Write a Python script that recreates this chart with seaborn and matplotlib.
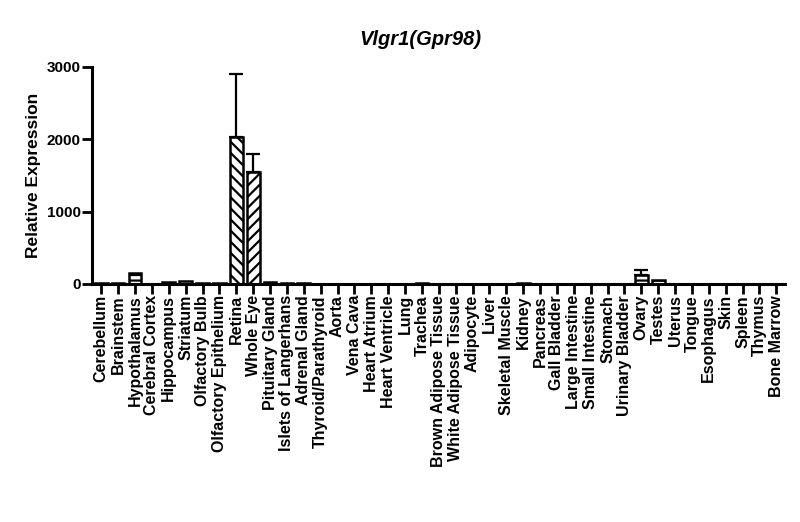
import numpy as np
import pandas as pd
import matplotlib
matplotlib.use('Agg')
import matplotlib.pyplot as plt
import seaborn as sns

tissues = ['Cerebellum', 'Brainstem', 'Hypothalamus', 'Cerebral Cortex', 'Hippocampus',
           'Striatum', 'Olfactory Bulb', 'Olfactory Epithelium', 'Retina', 'Whole Eye',
           'Pituitary Gland', 'Islets of Langerhans', 'Adrenal Gland', 'Thyroid/Parathyroid',
           'Aorta', 'Vena Cava', 'Heart Atrium', 'Heart Ventricle', 'Lung', 'Trachea',
           'Brown Adipose Tissue', 'White Adipose Tissue', 'Adipocyte', 'Liver',
           'Skeletal Muscle', 'Kidney', 'Pancreas', 'Gall Bladder', 'Large Intestine',
           'Small Intestine', 'Stomach', 'Urinary Bladder', 'Ovary', 'Testes', 'Uterus',
           'Tongue', 'Esophagus', 'Skin', 'Spleen', 'Thymus', 'Bone Marrow']
expression = [12, 10, 150, 5, 22, 40, 20, 10, 2030, 1540,
              25, 10, 12, 3, 2, 2, 2, 2, 6, 15,
              2, 2, 2, 2, 2, 10, 2, 2, 2, 2,
              2, 2, 130, 60, 2, 2, 2, 2, 2, 2, 2]
sem = [0, 0, 0, 0, 0, 0, 0, 0, 870, 260,
       0, 0, 0, 0, 0, 0, 0, 0, 0, 0,
       0, 0, 0, 0, 0, 0, 0, 0, 0, 0,
       0, 0, 60, 0, 0, 0, 0, 0, 0, 0, 0]
hatches = {'Hypothalamus': '---', 'Retina': '\\\\\\', 'Whole Eye': '///',
           'Ovary': '---', 'Testes': '---'}

df = pd.DataFrame({'tissue': tissues, 'expr': expression, 'sem': sem})

sns.set_style('ticks', {'axes.edgecolor': 'black', 'text.color': 'black',
                        'xtick.color': 'black', 'ytick.color': 'black',
                        'axes.labelcolor': 'black'})
plt.rcParams['font.family'] = ['Liberation Sans', 'DejaVu Sans']
plt.rcParams['font.weight'] = 'bold'
plt.rcParams['hatch.linewidth'] = 1.6

fig = plt.figure(figsize=(8, 5.22), dpi=100)
ax = fig.add_axes([0.115, 0.456, 0.866, 0.416])

sns.barplot(data=df, x='tissue', y='expr', color='white', edgecolor='black',
            linewidth=1.8, width=0.75, ax=ax, errorbar=None)
for patch, name in zip(ax.patches, tissues):
    if name in hatches:
        patch.set_hatch(hatches[name])

pos = np.arange(len(tissues))
mask = df['sem'] > 0
ax.errorbar(pos[mask], df['expr'][mask], yerr=[np.zeros(mask.sum()), df['sem'][mask]],
            fmt='none', ecolor='black', elinewidth=1.6, capsize=5, capthick=1.6)

ax.set_ylim(0, 3000)
ax.set_xlim(-0.55, len(tissues) - 0.5)
ax.set_yticks([0, 1000, 2000, 3000])
ax.set_xlabel('')
ax.set_ylabel('Relative Expression', fontsize=12.5, fontweight='bold', labelpad=4)
ax.set_title('Vlgr1(Gpr98)', fontsize=14.5, fontweight='bold', style='italic',
             pad=16, x=0.474)
ax.set_xticks(pos)
ax.set_xticklabels(tissues, rotation=90, fontsize=11.5, fontweight='bold')
ax.tick_params(axis='y', labelsize=11, width=2, length=7, pad=1)
ax.tick_params(axis='x', width=2, length=7, pad=1)
for lbl in ax.get_yticklabels():
    lbl.set_fontweight('bold')
sns.despine(ax=ax)
ax.spines['left'].set_linewidth(2.2)
ax.spines['bottom'].set_linewidth(2.2)

fig.savefig('out.png', dpi=100)
